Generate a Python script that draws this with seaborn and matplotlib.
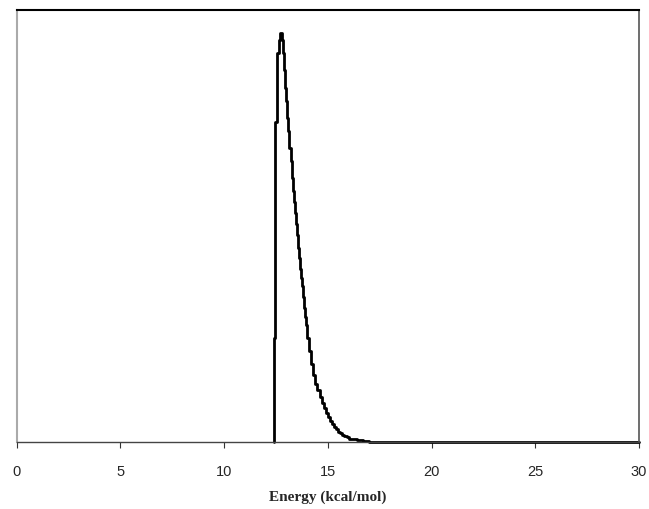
import matplotlib
matplotlib.use("Agg")
import matplotlib.pyplot as plt
import seaborn as sns
import pandas as pd

# bin left edges (kcal/mol) and step heights (arbitrary units)
energy = [12.40, 12.45, 12.55, 12.65, 12.70, 12.80, 12.85, 12.90, 12.95,
          13.00, 13.05, 13.10, 13.15, 13.20, 13.25, 13.30, 13.35, 13.40, 13.45,
          13.50, 13.55, 13.60, 13.65, 13.70, 13.75, 13.80, 13.85, 13.90, 13.95,
          14.0, 14.1, 14.2, 14.3, 14.4, 14.5, 14.6, 14.7, 14.8, 14.9,
          15.0, 15.1, 15.2, 15.3, 15.4, 15.5, 15.6, 15.7, 15.8, 15.9,
          16.0, 16.2, 16.4, 16.7, 17.0, 30.0]
height = [0.24, 0.74, 0.90, 0.93, 0.947, 0.93, 0.90, 0.86, 0.82,
          0.79, 0.75, 0.72, 0.68, 0.65, 0.61, 0.58, 0.555, 0.53, 0.505,
          0.48, 0.45, 0.425, 0.40, 0.38, 0.36, 0.335, 0.31, 0.29, 0.27,
          0.24, 0.21, 0.18, 0.155, 0.135, 0.12, 0.105, 0.09, 0.078, 0.067,
          0.058, 0.049, 0.041, 0.035, 0.029, 0.024, 0.020, 0.016, 0.013, 0.011,
          0.008, 0.006, 0.004, 0.002, 0.0, 0.0]
xticks = [0, 5, 10, 15, 20, 25, 30]

# start the outline at zero on the first edge
df = pd.DataFrame({"Energy": [energy[0]] + energy, "Count": [0.0] + height})

sns.set_style("white")
fig = plt.figure(figsize=(6.49, 5.10), dpi=100)
ax = fig.add_axes([0.0257, 0.1314, 0.9589, 0.8470])

sns.lineplot(data=df, x="Energy", y="Count", estimator=None, sort=False,
             drawstyle="steps-post", color="black", linewidth=2.0,
             clip_on=False, ax=ax)

ax.set_xlim(0, 30)
ax.set_ylim(0, 1.0)
ax.set_xticks(xticks)
ax.set_xticklabels([str(t) for t in xticks], fontfamily="Liberation Sans", fontsize=10.5)
ax.set_yticks([])
ax.set_ylabel("")
ax.set_xlabel("Energy (kcal/mol)", fontfamily="Liberation Serif", fontweight="bold",
              fontsize=11, labelpad=8)
ax.tick_params(axis="x", direction="out", length=4, width=0.8, color="#333333",
               pad=12, bottom=True)

# frame: grey left, black top, dark right/bottom
ax.spines["left"].set_color("#aaaaaa")
ax.spines["left"].set_linewidth(1.5)
ax.spines["top"].set_color("black")
ax.spines["top"].set_linewidth(1.5)
ax.spines["right"].set_color("#555555")
ax.spines["right"].set_linewidth(1.2)
ax.spines["bottom"].set_color("#444444")
ax.spines["bottom"].set_linewidth(1.0)

plt.savefig("out.png", dpi=100)
plt.close()
